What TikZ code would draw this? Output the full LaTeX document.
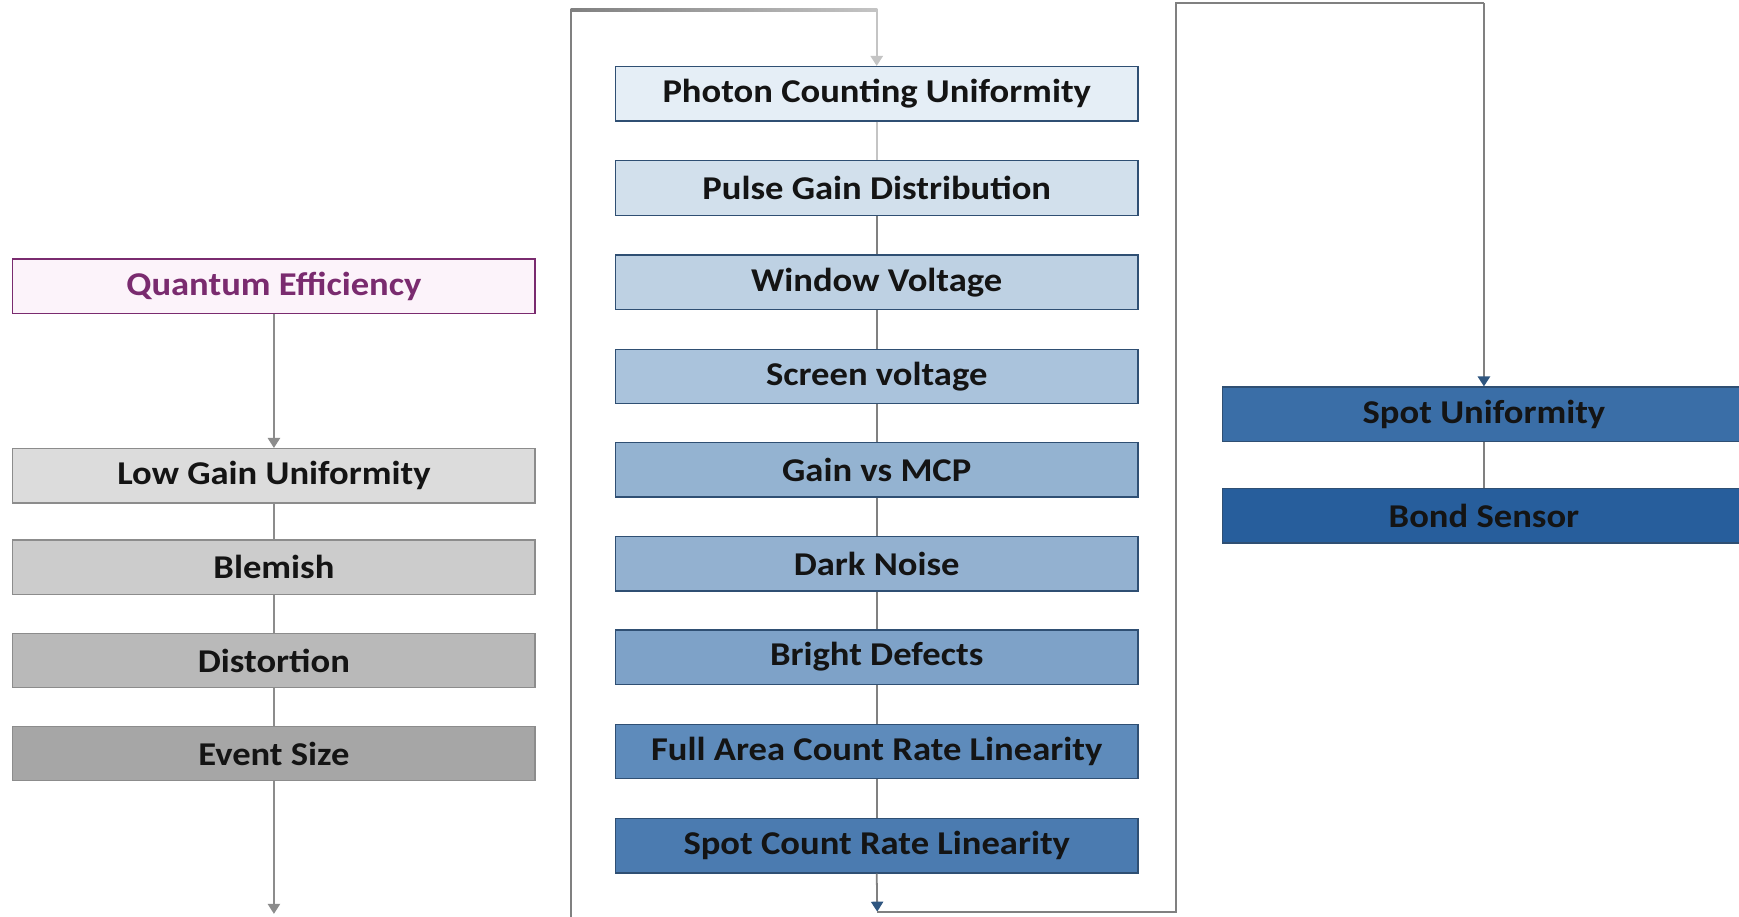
\documentclass[tikz,border=0pt]{standalone}
\usepackage{fontspec}
\setmainfont{Carlito}[FakeStretch=1.1]
\usetikzlibrary{arrows.meta}

% box fills
\definecolor{qefill}{HTML}{FCF3FA}
\definecolor{qeline}{HTML}{7A2B6F}
\definecolor{gA}{HTML}{DCDCDC}
\definecolor{gB}{HTML}{CCCCCC}
\definecolor{gC}{HTML}{B9B9B9}
\definecolor{gD}{HTML}{A6A6A6}
\definecolor{gline}{HTML}{8C8C8C}
\definecolor{bA}{HTML}{E5EEF6}
\definecolor{bB}{HTML}{D2E0EC}
\definecolor{bC}{HTML}{BED1E3}
\definecolor{bD}{HTML}{AAC3DC}
\definecolor{bE}{HTML}{94B3D1}
\definecolor{bF}{HTML}{93B1D0}
\definecolor{bG}{HTML}{7EA2C8}
\definecolor{bH}{HTML}{5E8BBB}
\definecolor{bI}{HTML}{4B7BB0}
\definecolor{bJ}{HTML}{3A6EA7}
\definecolor{bK}{HTML}{275E9C}
\definecolor{bline}{HTML}{2F4F73}
\definecolor{wire}{HTML}{808080}
\definecolor{wirelight}{HTML}{C4C4C4}
\definecolor{tipblue}{HTML}{2F5680}

\tikzset{
  box/.style={rectangle, draw=bline, line width=0.6pt, minimum width=235.5pt,
    minimum height=24.5pt, inner sep=0pt, text=black!92,
    font=\bfseries\fontsize{15}{18}\selectfont},
  graybox/.style={box, draw=gline},
  wireline/.style={draw=wire, line width=0.8pt},
  tip/.style={-{Triangle[width=5.5pt,length=4.5pt]}},
}

\begin{document}
\begin{tikzpicture}[x=0.5pt,y=-0.5pt]
\useasboundingbox (0,0) rectangle (1568,826);
\fill[white] (0,0) rectangle (1568,826);
\clip (0,0) rectangle (1568,826);

% left column
\node[box, draw=qeline, fill=qefill, text=qeline] (qe) at (247,258) {Quantum Efficiency};
\node[graybox, fill=gA] (lgu) at (247,429) {Low Gain Uniformity};
\node[graybox, fill=gB] (blem) at (247,511.5) {Blemish};
\node[graybox, fill=gC] (dist) at (247,595.5) {Distortion};
\node[graybox, fill=gD] (evs) at (247,679.5) {Event Size};

% middle column
\node[box, fill=bA] (pcu) at (790.5,84.5) {Photon Counting Uniformity};
\node[box, fill=bB] (pgd) at (790.5,169.5) {Pulse Gain Distribution};
\node[box, fill=bC] (wv) at (790.5,254.5) {Window Voltage};
\node[box, fill=bD] (sv) at (790.5,339.5) {Screen voltage};
\node[box, fill=bE] (gvm) at (790.5,423.5) {Gain vs MCP};
\node[box, fill=bF] (dn) at (790.5,508.5) {Dark Noise};
\node[box, fill=bG] (bd) at (790.5,592.5) {Bright Defects};
\node[box, fill=bH] (facrl) at (790.5,677.5) {Full Area Count Rate Linearity};
\node[box, fill=bI] (scrl) at (790.5,762.5) {Spot Count Rate Linearity};

% right column
\node[box, fill=bJ] (su) at (1338,373.5) {Spot Uniformity};
\node[box, fill=bK] (bs) at (1338,465) {Bond Sensor};

% free ends of the connectors
\coordinate (evsEnd) at (247,824);
\coordinate (loopLow) at (515,830);
\coordinate (loopTop) at (515,9);
\coordinate (pcuTop) at (pcu.north |- 0,9);
\coordinate (scrlEnd) at (791,822);
\coordinate (turnLow) at (1060,822);
\coordinate (turnTop) at (1060,3);
\coordinate (suTop) at (su.north |- 0,3);

% left column connectors
\draw[draw=gline, line width=0.8pt, tip] (qe.south) -- (lgu.north);
\draw[draw=gline, line width=0.8pt] (lgu.south) -- (blem.north);
\draw[draw=gline, line width=0.8pt] (blem.south) -- (dist.north);
\draw[draw=gline, line width=0.8pt] (dist.south) -- (evs.north);
\draw[draw=gline, line width=0.8pt, tip] (evs.south) -- (evsEnd);

% feedback into the photon counting chain
\draw[draw=wire, line width=1pt] (loopLow) -- (loopTop);
\shade[left color=wire, right color=wirelight] (514.5,8) rectangle (791,10);
\draw[draw=wirelight, line width=1pt, tip] (pcuTop) -- (pcu.north);

% middle column connectors
\draw[draw=wirelight, line width=0.8pt] (pcu.south) -- (pgd.north);
\foreach \a/\b in {pgd/wv, wv/sv, sv/gvm, gvm/dn, dn/bd, bd/facrl, facrl/scrl}
  \draw[wireline] (\a.south) -- (\b.north);
\draw[draw=wire, line width=0.8pt, -{Triangle[width=5.5pt,length=4.5pt,color=tipblue]}] (scrl.south) -- (scrlEnd);

% route over to the spot measurements
\draw[draw=wire, line width=1pt] (scrlEnd) -- (turnLow) -- (turnTop) -- (suTop);
\draw[draw=wire, line width=1pt, -{Triangle[width=5.5pt,length=4.5pt,color=tipblue]}] (suTop) -- (su.north);
\draw[wireline] (su.south) -- (bs.north);
\end{tikzpicture}
\end{document}
